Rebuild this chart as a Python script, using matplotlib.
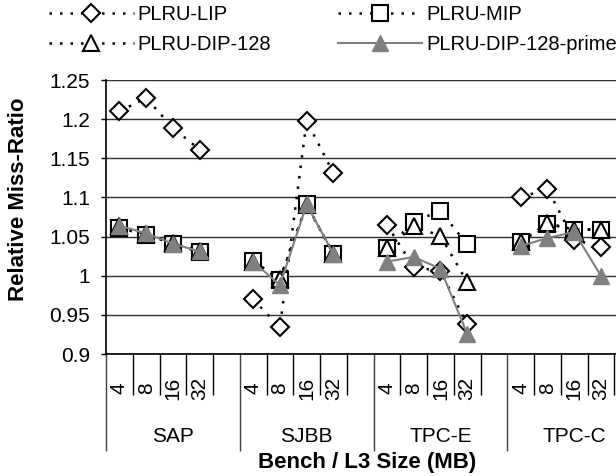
import matplotlib
matplotlib.use('Agg')
import matplotlib.pyplot as plt
import numpy as np

plt.rcParams['font.family'] = ['Liberation Sans', 'DejaVu Sans']

# data
groups = ['SAP', 'SJBB', 'TPC-E', 'TPC-C']
sizes = ['4', '8', '16', '32']
lip = [[1.210, 1.227, 1.189, 1.161],
       [0.970, 0.934, 1.198, 1.131],
       [1.065, 1.011, 1.006, 0.938],
       [1.100, 1.111, 1.046, 1.037]]
mip = [[1.061, 1.052, 1.041, 1.030],
       [1.019, 0.995, 1.091, 1.028],
       [1.035, 1.069, 1.083, 1.040],
       [1.043, 1.066, 1.059, 1.059]]
dip = [[1.063, 1.053, 1.042, 1.031],
       [1.018, 0.996, 1.090, 1.028],
       [1.035, 1.063, 1.051, 0.992],
       [1.043, 1.067, 1.059, 1.059]]
prime = [[1.064, 1.054, 1.041, 1.031],
         [1.018, 0.988, 1.091, 1.028],
         [1.018, 1.024, 1.009, 0.926],
         [1.038, 1.048, 1.056, 1.000]]
yticks = [0.9, 0.95, 1, 1.05, 1.1, 1.15, 1.2, 1.25]

fig = plt.figure(figsize=(6.16, 4.76), dpi=100)
# axes runs past the right edge like the cropped original
ax = fig.add_axes([0.1721, 0.2563, 0.8685, 0.5756])
ax.set_xlim(0, 20)
ax.set_ylim(0.9, 1.25)

dots = (0, (1, 3.2))
styles = [
    ('PLRU-LIP', lip, dict(color='black', ls=dots, lw=1.8, marker='D', ms=9,
                           mfc='white', mec='black', mew=1.5)),
    ('PLRU-MIP', mip, dict(color='black', ls=dots, lw=1.8, marker='s', ms=11,
                           mfc='white', mec='black', mew=1.5)),
    ('PLRU-DIP-128', dip, dict(color='black', ls=dots, lw=1.8, marker='^', ms=12,
                               mfc='white', mec='black', mew=1.5)),
    ('PLRU-DIP-128-prime', prime, dict(color='#808080', ls='-', lw=1.5, marker='^',
                                       ms=12, mfc='#808080', mec='#808080', mew=1)),
]
handles = {}
for name, vals, kw in styles:
    for g in range(len(groups)):
        xs = [5 * g + i + 0.5 for i in range(len(sizes))]
        ln, = ax.plot(xs, vals[g], clip_on=False, zorder=3, **kw)
    handles[name] = ln

ax.set_yticks(yticks)
ax.set_yticklabels(['0.9', '0.95', '1', '1.05', '1.1', '1.15', '1.2', '1.25'])
ax.yaxis.grid(True, color='#303030', lw=1)
ax.set_axisbelow(True)
ax.spines['top'].set_visible(False)
ax.spines['right'].set_visible(False)
ax.spines['left'].set_linewidth(1.2)
ax.spines['bottom'].set_linewidth(1.2)
ax.tick_params(axis='y', length=3.6, width=1, pad=8, labelsize=15)

ax.set_xticks([0, 5, 10, 15, 20])
ax.set_xticks([i for i in range(1, 20) if i % 5], minor=True)
ax.tick_params(axis='x', which='major', length=70, width=1, color='#404040', labelbottom=False)
ax.tick_params(axis='x', which='minor', length=29.5, width=1, color='black')

tr = ax.get_xaxis_transform()
for g, gname in enumerate(groups):
    for i, s in enumerate(sizes):
        ax.text(5 * g + i + 0.5, -0.125, s, rotation=90, ha='center', va='center',
                fontsize=15, transform=tr)
    ax.text(5 * g + 2.5, -0.3, gname, ha='center', va='center', fontsize=15, transform=tr)

ax.text(9.75, -0.395, 'Bench / L3 Size (MB)', ha='center', va='center', fontsize=16,
        fontweight='bold', transform=tr)
fig.text(0.03, 1 - 199 / 476, 'Relative Miss-Ratio', rotation=90, ha='center', va='center',
         fontsize=16, fontweight='bold')

order = ['PLRU-LIP', 'PLRU-DIP-128', 'PLRU-MIP', 'PLRU-DIP-128-prime']
fig.legend([handles[k] for k in order], order, ncol=2, loc='upper left',
           bbox_to_anchor=(0.0795, 0.99), frameon=False, fontsize=14.5, numpoints=1,
           handlelength=4.2, handletextpad=0.2, columnspacing=3.3, labelspacing=0.55,
           borderpad=0, borderaxespad=0)

fig.savefig('out.png', dpi=100)
